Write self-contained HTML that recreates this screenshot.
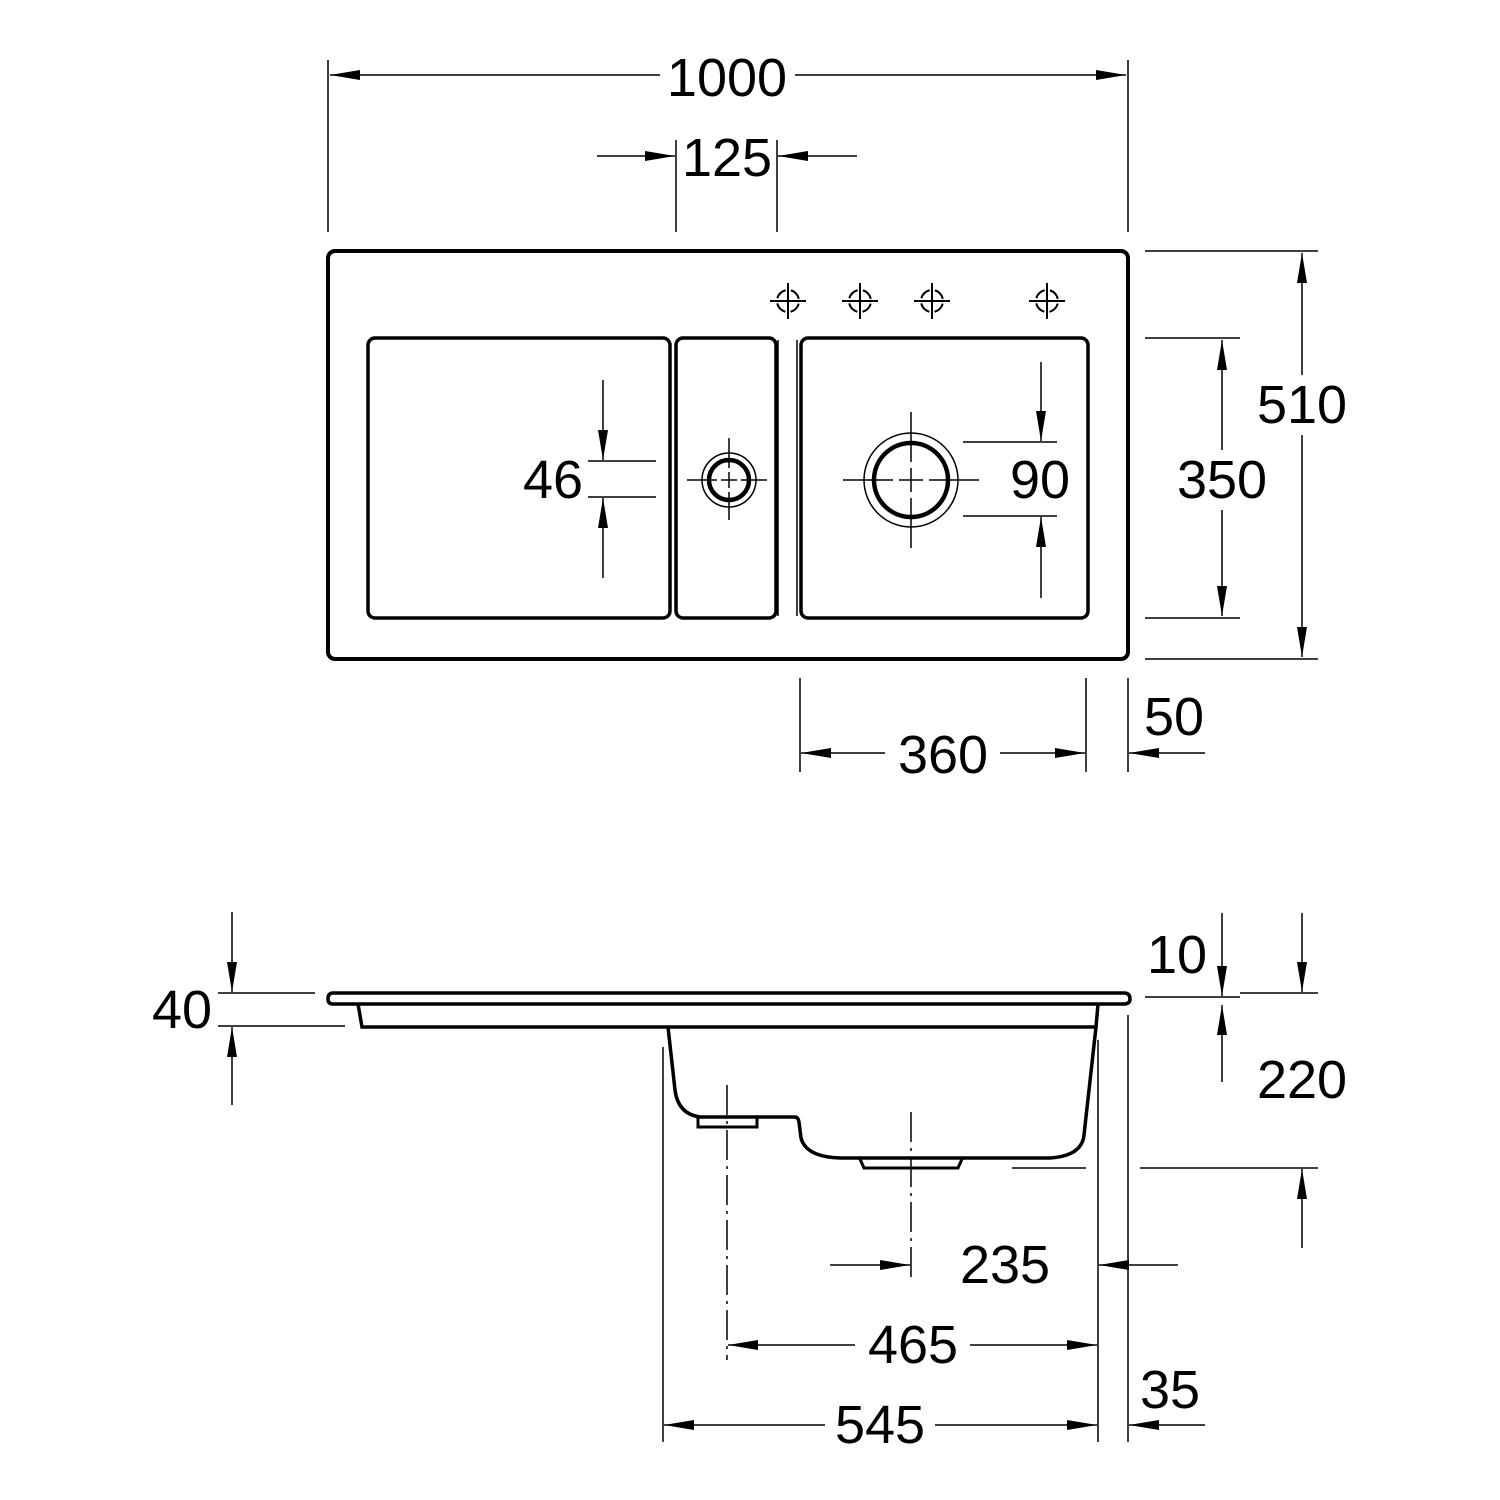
<!DOCTYPE html>
<html><head><meta charset="utf-8"><style>
html,body{margin:0;padding:0;background:#fff}
svg{display:block}
text{font-family:"Liberation Sans",sans-serif;font-size:54px;fill:#000;text-anchor:middle;dominant-baseline:central}
</style></head><body>
<svg width="1500" height="1500" viewBox="0 0 1500 1500" xmlns="http://www.w3.org/2000/svg">
<defs>
<marker id="a" markerWidth="30" markerHeight="12" refX="30" refY="6" orient="auto" markerUnits="userSpaceOnUse">
<path d="M0,1 L30,6 L0,11 Z" fill="#000"/></marker>
</defs>
<g fill="none" stroke="#000">
<rect x="328" y="251" width="800" height="408" rx="7" stroke-width="4"/>
<rect x="368" y="338" width="302" height="280" rx="7" stroke-width="3.5"/>
<rect x="676" y="338" width="100" height="280" rx="7" stroke-width="3.5"/>
<line x1="778" y1="340" x2="778" y2="616" stroke-width="1.5"/>
<line x1="797" y1="340" x2="797" y2="616" stroke-width="1.5"/>
<rect x="801" y="338" width="287" height="280" rx="7" stroke-width="3.5"/>
<circle cx="729" cy="480" r="20" stroke-width="4.5"/>
<circle cx="729" cy="480" r="27" stroke-width="1.5"/>
<circle cx="911" cy="480" r="37" stroke-width="4.5"/>
<circle cx="911" cy="480" r="47" stroke-width="1.5"/>
<g stroke-width="1.5">
<path d="M687,480h30M721,480h16M741,480h26M729,438v30M729,472v16M729,492v28"/>
<path d="M843,480h50M899,480h24M929,480h50M911,412v50M911,468v24M911,498v50"/>
</g>
<g stroke-width="2">
<path d="M770,301h36M788,283v36"/><circle cx="788" cy="301" r="11" stroke-dasharray="12 5.28" stroke-dashoffset="14.64"/>
<path d="M842,301h36M860,283v36"/><circle cx="860" cy="301" r="11" stroke-dasharray="12 5.28" stroke-dashoffset="14.64"/>
<path d="M914,301h36M932,283v36"/><circle cx="932" cy="301" r="11" stroke-dasharray="12 5.28" stroke-dashoffset="14.64"/>
<path d="M1029,301h36M1047,283v36"/><circle cx="1047" cy="301" r="11" stroke-dasharray="12 5.28" stroke-dashoffset="14.64"/>
</g>
<g stroke-width="1.5">
<line x1="328" y1="60" x2="328" y2="232"/><line x1="1128" y1="60" x2="1128" y2="232"/>
<line x1="660" y1="75" x2="330" y2="75" marker-end="url(#a)"/>
<line x1="795" y1="75" x2="1126" y2="75" marker-end="url(#a)"/>
<line x1="676" y1="140" x2="676" y2="232"/><line x1="777" y1="140" x2="777" y2="232"/>
<line x1="597" y1="156" x2="675" y2="156" marker-end="url(#a)"/>
<line x1="857" y1="156" x2="778" y2="156" marker-end="url(#a)"/>
<line x1="1145" y1="251" x2="1318" y2="251"/><line x1="1145" y1="659" x2="1318" y2="659"/>
<line x1="1302" y1="375" x2="1302" y2="253" marker-end="url(#a)"/>
<line x1="1302" y1="435" x2="1302" y2="657" marker-end="url(#a)"/>
<line x1="1145" y1="338" x2="1240" y2="338"/><line x1="1145" y1="618" x2="1240" y2="618"/>
<line x1="1222" y1="450" x2="1222" y2="340" marker-end="url(#a)"/>
<line x1="1222" y1="510" x2="1222" y2="616" marker-end="url(#a)"/>
<line x1="588" y1="461" x2="656" y2="461"/><line x1="588" y1="497" x2="656" y2="497"/>
<line x1="603" y1="380" x2="603" y2="460" marker-end="url(#a)"/>
<line x1="603" y1="578" x2="603" y2="498" marker-end="url(#a)"/>
<line x1="963" y1="442" x2="1057" y2="442"/><line x1="963" y1="516" x2="1057" y2="516"/>
<line x1="1041" y1="362" x2="1041" y2="441" marker-end="url(#a)"/>
<line x1="1041" y1="598" x2="1041" y2="517" marker-end="url(#a)"/>
<line x1="800" y1="678" x2="800" y2="772"/><line x1="1086" y1="678" x2="1086" y2="772"/>
<line x1="1128" y1="678" x2="1128" y2="772"/>
<line x1="885" y1="753" x2="801" y2="753" marker-end="url(#a)"/>
<line x1="1000" y1="753" x2="1085" y2="753" marker-end="url(#a)"/>
<line x1="1205" y1="753" x2="1129" y2="753" marker-end="url(#a)"/>
</g>
<path d="M333,993 H1124 Q1130,993 1130,999 Q1130,1004 1124,1004 H333 Q328,1004 328,999 Q328,993 333,993 Z" stroke-width="3.5"/>
<path d="M358,1004 L362,1027 H1096 L1098,1004" stroke-width="3.5"/>
<path d="M668,1027 L675,1090 Q678,1114 700,1117 H795 Q798,1117 799,1122 L801,1138 Q806,1157 840,1158 H1050 Q1082,1156 1084,1135 L1096,1027" stroke-width="3.5"/>
<rect x="698" y="1117" width="59" height="10" stroke-width="3"/>
<path d="M860,1159 L864,1168 H958 L962,1159" stroke-width="3"/>
<g stroke-width="1.5">
<line x1="727" y1="1085" x2="727" y2="1360" stroke-dasharray="30,6,3,6"/>
<line x1="911" y1="1112" x2="911" y2="1280" stroke-dasharray="30,6,3,6"/>
<line x1="663" y1="1047" x2="663" y2="1442"/>
<line x1="1098" y1="1040" x2="1098" y2="1442"/>
<line x1="1128" y1="1015" x2="1128" y2="1442"/>
<line x1="218" y1="993" x2="315" y2="993"/><line x1="218" y1="1026" x2="345" y2="1026"/>
<line x1="232" y1="912" x2="232" y2="992" marker-end="url(#a)"/>
<line x1="232" y1="1105" x2="232" y2="1027" marker-end="url(#a)"/>
<line x1="1145" y1="997" x2="1240" y2="997"/>
<line x1="1222" y1="913" x2="1222" y2="996" marker-end="url(#a)"/>
<line x1="1222" y1="1082" x2="1222" y2="1005" marker-end="url(#a)"/>
<line x1="1240" y1="993" x2="1318" y2="993"/>
<line x1="1140" y1="1168" x2="1318" y2="1168"/>
<line x1="1012" y1="1168" x2="1086" y2="1168"/>
<line x1="1302" y1="913" x2="1302" y2="992" marker-end="url(#a)"/>
<line x1="1302" y1="1248" x2="1302" y2="1169" marker-end="url(#a)"/>
<line x1="830" y1="1265" x2="910" y2="1265" marker-end="url(#a)"/>
<line x1="1178" y1="1265" x2="1099" y2="1265" marker-end="url(#a)"/>
<line x1="855" y1="1345" x2="728" y2="1345" marker-end="url(#a)"/>
<line x1="970" y1="1345" x2="1097" y2="1345" marker-end="url(#a)"/>
<line x1="825" y1="1425" x2="664" y2="1425" marker-end="url(#a)"/>
<line x1="935" y1="1425" x2="1097" y2="1425" marker-end="url(#a)"/>
<line x1="1205" y1="1425" x2="1129" y2="1425" marker-end="url(#a)"/>
</g>
</g>
<text x="727" y="78">1000</text>
<text x="727" y="158">125</text>
<text x="1302" y="405">510</text>
<text x="1222" y="480">350</text>
<text x="553" y="480">46</text>
<text x="1040" y="480">90</text>
<text x="943" y="755">360</text>
<text x="1174" y="717">50</text>
<text x="182" y="1010">40</text>
<text x="1177" y="955">10</text>
<text x="1302" y="1080">220</text>
<text x="1005" y="1265">235</text>
<text x="913" y="1345">465</text>
<text x="880" y="1425">545</text>
<text x="1170" y="1390">35</text>
</svg>
</body></html>
